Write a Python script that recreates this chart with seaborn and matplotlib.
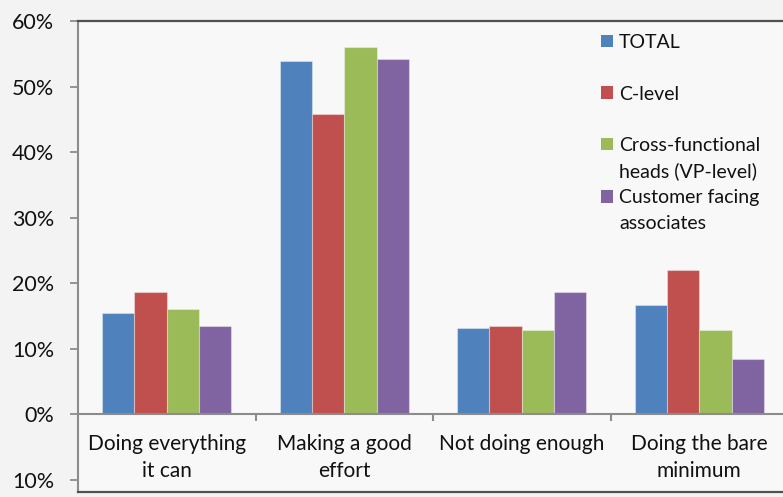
import numpy as np
import pandas as pd
import matplotlib
matplotlib.use("Agg")
import matplotlib.pyplot as plt
import seaborn as sns
from matplotlib.patches import Patch
from matplotlib.ticker import FuncFormatter

# values (share of respondents)
categories = ["Doing everything\nit can", "Making a good\neffort", "Not doing enough", "Doing the bare\nminimum"]
series = ["TOTAL", "C-level", "Cross-functional heads (VP-level)", "Customer facing associates"]
total = [0.154, 0.539, 0.131, 0.166]
c_level = [0.186, 0.458, 0.135, 0.220]
cross_functional = [0.160, 0.560, 0.128, 0.128]
customer_facing = [0.135, 0.542, 0.186, 0.084]
colors = ["#4F81BD", "#C0504D", "#9BBB59", "#8064A2"]

df = pd.DataFrame({
    "category": np.repeat(categories, len(series)),
    "series": series * len(categories),
    "value": np.ravel(np.column_stack([total, c_level, cross_functional, customer_facing])),
})

sns.set_style("ticks")
plt.rcParams["font.family"] = ["Lato", "DejaVu Sans"]

fig = plt.figure(figsize=(7.83, 4.97), dpi=100, facecolor="#f3f3f3")
ax = fig.add_axes([78 / 783, 1 - 491.5 / 497, 710 / 783, 470.5 / 497])
ax.set_facecolor("#f8f8f8")

sns.barplot(data=df, x="category", y="value", hue="series", hue_order=series,
            order=categories, palette=colors, saturation=1, width=0.727, gap=0,
            edgecolor=(1, 1, 1, 0.35), linewidth=0.8, ax=ax, legend=False)

ax.set_xlim(-0.5, len(categories) - 0.5)
ax.set_ylim(-0.118, 0.60)
ax.set_yticks(np.arange(-0.1, 0.61, 0.1))
ax.yaxis.set_major_formatter(FuncFormatter(lambda v, p: f"{abs(v) * 100:.0f}%"))
ax.tick_params(axis="y", labelsize=15.5, length=6, width=1.3, color="#8c8c8c",
               pad=11, labelcolor="#111111")
ax.tick_params(axis="x", length=0, labelbottom=False)
ax.set_xlabel("")
ax.set_ylabel("")

# box around the plot area
ax.spines["left"].set_color("#8c8c8c")
ax.spines["left"].set_linewidth(1.5)
for s in ["top", "bottom", "right"]:
    ax.spines[s].set_color("#505050")
    ax.spines[s].set_linewidth(1.6)

# category axis sits on the zero line
ax.axhline(0, color="#8c8c8c", lw=1.5, zorder=3)
ax.vlines([i + 0.5 for i in range(len(categories) - 1)], -0.0107, 0,
          color="#8c8c8c", lw=1.5, zorder=3)
for i, c in enumerate(categories):
    ax.text(i, -0.031, c, ha="center", va="top", fontsize=15,
            linespacing=1.4, color="#111111")

# legend: second lines of long labels get their own rows
bars = [Patch(facecolor=col, edgecolor="none") for col in colors]
blank = Patch(facecolor="none", edgecolor="none")
handles = [bars[0], blank, bars[1], blank, bars[2], blank, bars[3], blank]
labels = ["TOTAL", "", "C-level", "", "Cross-functional", "heads (VP-level)",
          "Customer facing", "associates"]
leg = ax.legend(handles, labels, loc="upper left",
                bbox_to_anchor=(601 / 783, 1 - 34 / 497),
                bbox_transform=fig.transFigure, frameon=False, fontsize=14,
                handlelength=0.62, handleheight=0.62, handletextpad=0.3,
                labelspacing=0.45, borderpad=0, borderaxespad=0)
for t in leg.get_texts():
    t.set_color("#111111")

fig.savefig("out.png", dpi=100, facecolor=fig.get_facecolor())
